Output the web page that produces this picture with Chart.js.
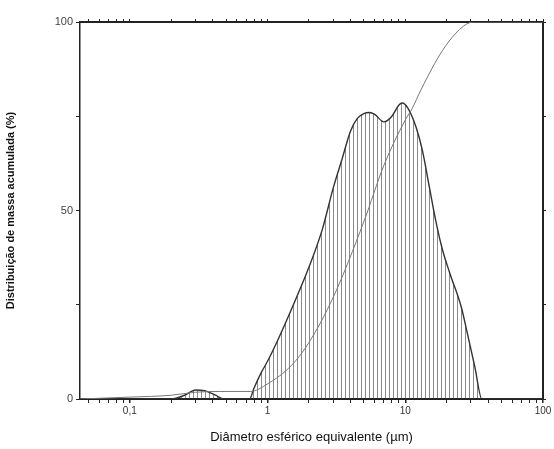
<!DOCTYPE html>
<html>
<head>
<meta charset="utf-8">
<script src="https://cdn.jsdelivr.net/npm/chart.js@4.4.1/dist/chart.umd.min.js"></script>
<style>
    html, body { margin: 0; padding: 0; background: #fff; }
    #chart { display: block; }
</style>
</head>
<body>
<canvas id="chart" width="554" height="449"></canvas>
<script>
// --- DATA ---
// distribution (hatched area), diameter in um vs %
const freqDiam = [0.0435, 0.2, 0.25, 0.3, 0.35, 0.42, 0.48, 0.74, 0.8, 0.9, 1.0, 1.2, 1.5, 2.0, 2.5, 3.0, 3.5, 4.0, 4.5, 5.0, 5.5, 6.0, 7.0, 8.0, 9.0, 9.5, 10.5, 12, 13.3, 15, 16.5, 18.5, 21, 25.5, 28, 32, 36, 100];
const freqVals = [0, 0, 1, 2.4, 2.2, 1, 0, 0, 3, 7, 10, 16, 24, 35, 45, 56, 64, 71, 74.5, 75.7, 76, 75.5, 73.5, 75, 78, 78.5, 77, 72, 66, 56, 48, 40, 33.5, 24.4, 18, 8.5, 0, 0];

// cumulative curve
const cumDiam = [0.0435, 0.1, 0.2, 0.3, 0.45, 0.75, 1, 1.5, 2, 3, 5, 7, 10, 11.2, 13, 17.6, 22, 28, 33, 100];
const cumVals = [0, 0.5, 1, 1.8, 2, 2, 4, 9, 15, 27, 47, 62, 74, 77, 82, 91, 96, 99.5, 100, 100];

// axis ticks
const xTicks = [0.05, 0.06, 0.07, 0.08, 0.09,
    0.1, 0.2, 0.3, 0.4, 0.5, 0.6, 0.7, 0.8, 0.9,
    1, 2, 3, 4, 5, 6, 7, 8, 9,
    10, 20, 30, 40, 50, 60, 70, 80, 90, 100];
const xLabels = { 0.1: '0,1', 1: '1', 10: '10', 100: '100' };
const yTicks = [0, 25, 50, 75, 100];
const yLabels = { 0: '0', 50: '50', 100: '100' };

// --- HATCH PATTERN ---
function makeHatch() {
    const c = document.createElement('canvas');
    c.width = 4;
    c.height = 10;
    const g = c.getContext('2d');
    g.fillStyle = 'rgba(60,60,60,0.6)';
    g.fillRect(1, 0, 1, 10);
    return g.createPattern(c, 'repeat');
}

const toPoints = (xs, ys) => xs.map((x, i) => ({ x: x, y: ys[i] }));

const font = 'Liberation Sans, Arial, sans-serif';
const ink = '#222';

const ctx = document.getElementById('chart').getContext('2d');

new Chart(ctx, {
    type: 'line',
    data: {
        datasets: [{
            label: 'acumulada',
            data: toPoints(cumDiam, cumVals),
            borderColor: '#777',
            borderWidth: 1,
            pointRadius: 0,
            cubicInterpolationMode: 'monotone',
            fill: false,
            order: 0
        }, {
            label: 'distribuição',
            data: toPoints(freqDiam, freqVals),
            borderColor: '#333',
            borderWidth: 1.4,
            backgroundColor: makeHatch(),
            pointRadius: 0,
            cubicInterpolationMode: 'monotone',
            fill: 'origin',
            order: 1
        }]
    },
    options: {
        responsive: false,
        animation: false,
        layout: { padding: 0 },
        plugins: {
            legend: { display: false },
            tooltip: { enabled: false }
        },
        scales: {
            x: {
                type: 'logarithmic',
                position: 'bottom',
                min: 0.0435,
                max: 100,
                afterBuildTicks: s => { s.ticks = xTicks.map(v => ({ value: v })); },
                afterFit: s => { s.height = 50; },
                grid: {
                    drawOnChartArea: false,
                    color: ink,
                    tickLength: 4,
                    lineWidth: c => xLabels[c.tick && c.tick.value] ? 1.5 : 1
                },
                border: { color: ink, width: 2 },
                ticks: {
                    autoSkip: false,
                    maxRotation: 0,
                    padding: 2,
                    color: '#333',
                    font: { family: font, size: 10 },
                    callback: v => xLabels[v] || ''
                },
                title: {
                    display: true,
                    text: 'Diâmetro esférico equivalente (µm)',
                    color: '#111',
                    font: { family: font, size: 13 },
                    padding: { top: 2 }
                }
            },
            x2: {
                type: 'logarithmic',
                position: 'top',
                min: 0.0435,
                max: 100,
                afterBuildTicks: s => { s.ticks = xTicks.map(v => ({ value: v })); },
                afterFit: s => { s.height = 22; },
                grid: { drawOnChartArea: false, color: ink, tickLength: 3 },
                border: { color: ink, width: 2 },
                ticks: { display: false }
            },
            y: {
                type: 'linear',
                position: 'left',
                min: 0,
                max: 100,
                afterBuildTicks: s => { s.ticks = yTicks.map(v => ({ value: v })); },
                afterFit: s => { s.width = 80; },
                grid: { drawOnChartArea: false, color: ink, tickLength: 4 },
                border: { color: ink, width: 1.5 },
                ticks: {
                    color: '#444',
                    padding: 3,
                    font: { family: font, size: 11 },
                    callback: v => yLabels[v] || ''
                },
                title: {
                    display: true,
                    text: 'Distribuição de massa acumulada (%)',
                    color: '#111',
                    font: { family: font, size: 11, weight: 'bold' },
                    padding: { bottom: 12 }
                }
            },
            y2: {
                type: 'linear',
                position: 'right',
                min: 0,
                max: 100,
                afterBuildTicks: s => { s.ticks = yTicks.map(v => ({ value: v })); },
                afterFit: s => { s.width = 11; },
                grid: { drawOnChartArea: false, color: ink, tickLength: 3 },
                border: { color: ink, width: 2 },
                ticks: { display: false }
            }
        }
    }
});
</script>
</body>
</html>
